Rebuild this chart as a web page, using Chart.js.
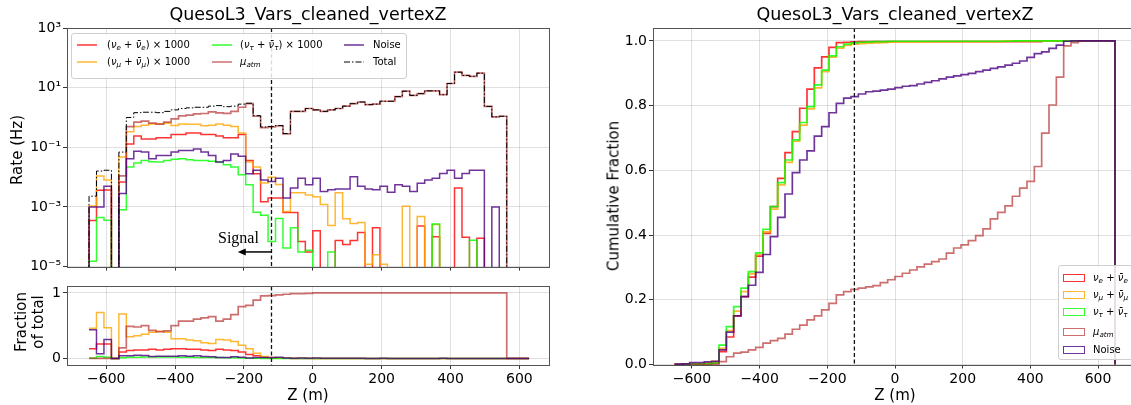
<!DOCTYPE html>
<html>
<head>
<meta charset="utf-8">
<script src="https://cdn.jsdelivr.net/npm/chart.js@4.4.1/dist/chart.umd.min.js"></script>
<style>
  html, body { margin: 0; padding: 0; background: #fff; overflow: hidden; }
  body { width: 1131px; height: 405px; position: relative; font-family: "DejaVu Sans", sans-serif; }
  canvas { position: absolute; }
  .txt { position: absolute; white-space: nowrap; color: #000; line-height: 1; transform: translate(-50%, -50%); }
  .rot { transform: translate(-50%, -50%) rotate(-90deg); }
  .leg { position: absolute; background: rgba(255,255,255,0.85); border: 1px solid #cfcfcf; border-radius: 3px; font-size: 10px; }
  .leg .lab { position: absolute; white-space: nowrap; line-height: 1; transform: translateY(-50%); }
  .leg svg { position: absolute; overflow: visible; }
  .leg .patch { position: absolute; box-sizing: border-box; width: 22px; height: 8px; border: 1.6px solid; transform: translateY(-50%); }
  sub { font-size: 0.72em; vertical-align: -0.28em; line-height: 0; }
</style>
</head>
<body>
<canvas id="rate" width="560" height="277" style="left:0;top:0"></canvas>
<canvas id="frac" width="560" height="129" style="left:0;top:276px"></canvas>
<canvas id="cum" width="560" height="405" style="left:590px;top:0"></canvas>

<div class="txt" style="left:308px;top:15px;font-size:17.5px">QuesoL3_Vars_cleaned_vertexZ</div>
<div class="txt" style="left:895px;top:15px;font-size:17.5px">QuesoL3_Vars_cleaned_vertexZ</div>
<div class="txt rot" style="left:17px;top:150px;font-size:15px">Rate (Hz)</div>
<div class="txt rot" style="left:21px;top:322px;font-size:15px">Fraction</div>
<div class="txt rot" style="left:38px;top:322px;font-size:15px">of total</div>
<div class="txt rot" style="left:614px;top:196px;font-size:15px">Cumulative Fraction</div>
<div class="txt" style="left:308px;top:395px;font-size:15px">Z (m)</div>
<div class="txt" style="left:895px;top:395px;font-size:15px">Z (m)</div>

<div class="leg" style="left:71px;top:33px;width:334px;height:44px">
  <svg style="left:5px;top:11px" width="20" height="1"><line x1="0" y1="0" x2="20" y2="0" stroke="rgba(255,0,0,0.8)" stroke-width="1.5"/></svg>
  <span class="lab" style="left:35px;top:11px">(<i>ν</i><sub><i>e</i></sub> + <i>ν&#772;</i><sub><i>e</i></sub>) × 1000</span>
  <svg style="left:5px;top:28px" width="20" height="1"><line x1="0" y1="0" x2="20" y2="0" stroke="rgba(255,165,0,0.8)" stroke-width="1.5"/></svg>
  <span class="lab" style="left:35px;top:28px">(<i>ν</i><sub><i>μ</i></sub> + <i>ν&#772;</i><sub><i>μ</i></sub>) × 1000</span>
  <svg style="left:140px;top:11px" width="20" height="1"><line x1="0" y1="0" x2="20" y2="0" stroke="rgba(0,255,0,0.8)" stroke-width="1.5"/></svg>
  <span class="lab" style="left:168px;top:11px">(<i>ν</i><sub><i>τ</i></sub> + <i>ν&#772;</i><sub><i>τ</i></sub>) × 1000</span>
  <svg style="left:140px;top:28px" width="20" height="1"><line x1="0" y1="0" x2="20" y2="0" stroke="rgba(178,34,34,0.65)" stroke-width="1.5"/></svg>
  <span class="lab" style="left:168px;top:28px"><i>μ</i><sub><i>atm</i></sub></span>
  <svg style="left:272px;top:11px" width="20" height="1"><line x1="0" y1="0" x2="20" y2="0" stroke="rgba(75,0,130,0.8)" stroke-width="1.5"/></svg>
  <span class="lab" style="left:301px;top:11px">Noise</span>
  <svg style="left:272px;top:28px" width="20" height="1"><line x1="0" y1="0" x2="20" y2="0" stroke="#000" stroke-width="1" stroke-dasharray="6 2 1.5 2"/></svg>
  <span class="lab" style="left:301px;top:28px">Total</span>
</div>

<div class="leg" style="left:1058px;top:265px;width:90px;height:93px">
  <span class="patch" style="left:4px;top:12px;border-color:rgba(255,0,0,0.8)"></span>
  <span class="lab" style="left:34px;top:12px"><i>ν</i><sub><i>e</i></sub> + <i>ν&#772;</i><sub><i>e</i></sub></span>
  <span class="patch" style="left:4px;top:29px;border-color:rgba(255,165,0,0.8)"></span>
  <span class="lab" style="left:34px;top:29px"><i>ν</i><sub><i>μ</i></sub> + <i>ν&#772;</i><sub><i>μ</i></sub></span>
  <span class="patch" style="left:4px;top:46px;border-color:rgba(0,255,0,0.8)"></span>
  <span class="lab" style="left:34px;top:46px"><i>ν</i><sub><i>τ</i></sub> + <i>ν&#772;</i><sub><i>τ</i></sub></span>
  <span class="patch" style="left:4px;top:66px;border-color:rgba(178,34,34,0.65)"></span>
  <span class="lab" style="left:34px;top:66px"><i>μ</i><sub><i>atm</i></sub></span>
  <span class="patch" style="left:4px;top:84px;border-color:rgba(75,0,130,0.8)"></span>
  <span class="lab" style="left:34px;top:84px">Noise</span>
</div>

<script>
// binning of vertexZ: 60 bins between -650 and 650 m
const Z_MIN = -650;
const Z_MAX = 650;
const N_BINS = 60;
const Z_CUT = -120;

// top panel: rate per bin (Hz), neutrinos scaled x1000
const nueRate = [3.5e-4, 3.6e-3, 3.7e-3, 0, 6.9e-3, 0.13, 0.24, 0.19, 0.19, 0.21,
  0.21, 0.27, 0.27, 0.3, 0.3, 0.27, 0.27, 0.24, 0.21, 0.21,
  0.27, 0.036, 0.013, 1.5e-3, 2.0e-3, 2.0e-3, 6.5e-4, 6.5e-4, 7e-5, 3.1e-5,
  1.6e-4, 0, 0, 7.5e-5, 5.5e-5, 7.5e-5, 1.4e-4, 0, 2e-4, 0,
  0, 0, 0, 0, 2.3e-4, 0, 1e-4, 0, 0, 4.3e-3,
  9.6e-5, 0, 9e-5, 0, 0, 0, 0, 0, 0, 0];
const numuRate = [1.07e-3, 0.011, 8.0e-3, 0, 0.047, 0.33, 0.5, 0.55, 0.6, 0.6,
  0.64, 0.54, 0.6, 0.59, 0.59, 0.53, 0.55, 0.6, 0.55, 0.5,
  0.3, 0.032, 0.022, 6.3e-3, 0.01, 5.7e-3, 7e-4, 3e-3, 3e-3, 2.5e-3,
  2.2e-3, 1.2e-3, 2.4e-4, 3e-3, 4e-4, 2.8e-4, 3e-4, 1.2e-5, 2.5e-5, 1.2e-5,
  0, 0, 1.05e-3, 0, 4.8e-4, 0, 2.6e-4, 0, 0, 0,
  0, 0, 0, 0, 0, 0, 0, 0, 0, 0];
const nutauRate = [1.5e-5, 4.4e-4, 3.6e-4, 0, 8e-4, 0.022, 0.03, 0.036, 0.033, 0.032,
  0.036, 0.04, 0.041, 0.038, 0.036, 0.036, 0.034, 0.032, 0.026, 0.022,
  0.012, 5.5e-3, 6.6e-4, 5.3e-4, 7e-5, 4.1e-4, 4.2e-5, 2e-4, 3.1e-5, 3.5e-5,
  0, 0, 3.1e-5, 0, 0, 0, 0, 0, 0, 0,
  0, 0, 0, 0, 0, 0, 2.7e-4, 0, 0, 0,
  0, 7.6e-5, 0, 0, 0, 0, 0, 0, 0, 0];
const muatmRate = [0, 0, 0, 0, 0.011, 0.49, 0.7, 0.75, 0.65, 0.6,
  0.7, 0.9, 1.14, 1.2, 1.32, 1.36, 1.54, 1.43, 1.38, 1.6,
  2.2, 2.9, 1.1, 0.46, 0.48, 0.52, 0.28, 1.6, 1.6, 2.0,
  1.8, 1.6, 1.8, 2.0, 2.4, 2.9, 3.3, 2.7, 2.8, 3.5,
  3.5, 5.0, 7.6, 5.5, 6.3, 7.8, 7.8, 5.8, 13.8, 33,
  25.6, 24, 30.6, 2.35, 1.05, 1.1, 0, 0, 0, 0];
const noiseRate = [1e-3, 1e-3, 4.9e-3, 0, 2.8e-3, 0.041, 0.074, 0.069, 0.041, 0.053,
  0.053, 0.069, 0.078, 0.078, 0.088, 0.069, 0.053, 0.032, 0.036, 0.06,
  0.05, 0.013, 0.017, 8e-3, 7.1e-3, 9.1e-3, 2e-3, 4.3e-3, 9.1e-3, 5.5e-3,
  9.1e-3, 3.3e-3, 3.8e-3, 4e-3, 4e-3, 0.0103, 4.9e-3, 4e-3, 3.8e-3, 4.9e-3,
  3.1e-3, 5.5e-3, 4.9e-3, 3.3e-3, 6.2e-3, 8e-3, 9.1e-3, 0.0133, 0.0171, 9.1e-3,
  0.0133, 0.0171, 0.0171, 0, 1e-3, 0, 0, 0, 0, 0];
const totalRate = [2.3e-3, 0.016, 0.017, 0, 0.069, 1.0, 1.45, 1.5, 1.5, 1.45,
  1.6, 1.8, 2.0, 2.1, 2.2, 2.2, 2.4, 2.5, 2.3, 2.4,
  2.8, 3.0, 1.15, 0.48, 0.5, 0.54, 0.29, 1.6, 1.6, 2.0,
  1.8, 1.6, 1.8, 2.0, 2.4, 2.9, 3.3, 2.7, 2.8, 3.5,
  3.5, 5.0, 7.6, 5.5, 6.3, 7.8, 7.8, 5.8, 13.8, 33,
  25.6, 24, 30.6, 2.35, 1.05, 1.1, 0, 0, 0, 0];

// bottom panel: fraction of total per bin
const nueFrac = [0.15, 0.22, 0.22, 0, 0.1, 0.12, 0.13, 0.13, 0.14, 0.13,
  0.14, 0.15, 0.15, 0.14, 0.14, 0.13, 0.12, 0.14, 0.13, 0.12,
  0.1, 0.06, 0.04, 0.02, 0.005, 0.004, 0.004, 0.001, 0, 0,
  0, 0, 0, 0, 0, 0, 0, 0, 0, 0,
  0, 0, 0, 0, 0, 0, 0, 0, 0, 0,
  0, 0, 0, 0, 0, 0, 0, 0, 0, 0];
const numuFrac = [0.46, 0.7, 0.47, 0, 0.68, 0.33, 0.345, 0.37, 0.4, 0.41,
  0.4, 0.3, 0.3, 0.28, 0.27, 0.24, 0.23, 0.29, 0.28, 0.26,
  0.2, 0.15, 0.08, 0.03, 0.015, 0.01, 0.005, 0.003, 0.002, 0.002,
  0.001, 0, 0, 0, 0, 0, 0, 0, 0, 0,
  0, 0, 0, 0, 0, 0, 0, 0, 0, 0,
  0, 0, 0, 0, 0, 0, 0, 0, 0, 0];
const nutauFrac = [0.007, 0.03, 0.02, 0, 0.012, 0.02, 0.02, 0.024, 0.022, 0.022,
  0.022, 0.022, 0.02, 0.018, 0.016, 0.016, 0.014, 0.013, 0.011, 0.01,
  0.006, 0.004, 0.002, 0.001, 0, 0, 0, 0, 0, 0,
  0, 0, 0, 0, 0, 0, 0, 0, 0, 0,
  0, 0, 0, 0, 0, 0, 0, 0, 0, 0,
  0, 0, 0, 0, 0, 0, 0, 0, 0, 0];
const muatmFrac = [0, 0, 0, 0, 0.16, 0.49, 0.48, 0.5, 0.43, 0.41,
  0.42, 0.5, 0.57, 0.57, 0.6, 0.62, 0.64, 0.57, 0.6, 0.67,
  0.79, 0.81, 0.89, 0.955, 0.96, 0.97, 0.98, 0.99, 0.99, 0.995,
  1, 1, 1, 1, 1, 1, 1, 1, 1, 1,
  1, 1, 1, 1, 1, 1, 1, 1, 1, 1,
  1, 1, 1, 1, 1, 1, 0, 0, 0, 0];
const noiseFrac = [0.44, 0.07, 0.29, 0, 0.04, 0.04, 0.05, 0.045, 0.03, 0.035,
  0.035, 0.035, 0.04, 0.035, 0.04, 0.03, 0.025, 0.015, 0.015, 0.025,
  0.02, 0.005, 0.015, 0.015, 0.014, 0.017, 0.007, 0.003, 0.005, 0.003,
  0.005, 0.002, 0.002, 0.002, 0.002, 0.004, 0.002, 0.001, 0.001, 0.002,
  0.001, 0.001, 0.001, 0.001, 0.001, 0.001, 0.001, 0.002, 0.001, 0,
  0, 0, 0, 0, 0, 0, 0, 0, 0, 0];

// right panel: cumulative fraction per bin
const nueCum = [0.0001, 0.001, 0.002, 0.002, 0.003, 0.005, 0.04, 0.085, 0.15, 0.21,
  0.27, 0.335, 0.405, 0.488, 0.575, 0.655, 0.72, 0.792, 0.851, 0.917,
  0.951, 0.98, 0.995, 0.996, 0.997, 0.998, 0.998, 0.998, 0.998, 0.998,
  0.998, 0.998, 0.998, 0.998, 0.998, 0.998, 0.998, 0.998, 0.998, 0.998,
  0.998, 0.998, 0.998, 0.998, 0.998, 0.998, 0.998, 0.998, 0.998, 0.998,
  1, 1, 1, 1, 1, 1, 1, 1, 1, 1];
const numuCum = [0.0001, 0.001, 0.002, 0.002, 0.006, 0.01, 0.05, 0.105, 0.165, 0.225,
  0.28, 0.34, 0.41, 0.48, 0.555, 0.625, 0.69, 0.74, 0.79, 0.855,
  0.905, 0.95, 0.978, 0.986, 0.99, 0.992, 0.993, 0.994, 0.995, 0.996,
  0.997, 0.997, 0.997, 0.997, 0.997, 0.998, 0.998, 0.998, 0.998, 0.998,
  0.998, 0.998, 0.998, 0.998, 0.998, 1, 1, 1, 1, 1,
  1, 1, 1, 1, 1, 1, 1, 1, 1, 1];
const nutauCum = [0, 0.001, 0.001, 0.001, 0.002, 0.004, 0.06, 0.117, 0.179, 0.236,
  0.287, 0.345, 0.418, 0.488, 0.562, 0.632, 0.694, 0.748, 0.797, 0.864,
  0.91, 0.954, 0.982, 0.99, 0.994, 0.996, 0.997, 0.998, 0.998, 0.999,
  0.999, 0.999, 0.999, 0.999, 0.999, 0.999, 0.999, 0.999, 0.999, 0.999,
  0.999, 0.999, 0.999, 0.999, 0.999, 0.999, 1, 1, 1, 1,
  1, 1, 1, 1, 1, 1, 1, 1, 1, 1];
const muatmCum = [0, 0, 0, 0, 0, 0.0005, 0.009, 0.024, 0.035, 0.038,
  0.045, 0.053, 0.066, 0.074, 0.081, 0.094, 0.109, 0.122, 0.138, 0.15,
  0.169, 0.189, 0.215, 0.225, 0.232, 0.236, 0.24, 0.244, 0.253, 0.262,
  0.272, 0.282, 0.292, 0.302, 0.31, 0.318, 0.326, 0.344, 0.36, 0.37,
  0.383, 0.398, 0.419, 0.45, 0.47, 0.49, 0.52, 0.545, 0.566, 0.612,
  0.715, 0.802, 0.888, 0.985, 0.995, 1, 1, 1, 1, 1];
const noiseCum = [0.001, 0.002, 0.006, 0.006, 0.008, 0.01, 0.045, 0.1, 0.15, 0.21,
  0.245, 0.285, 0.34, 0.395, 0.455, 0.527, 0.593, 0.632, 0.66, 0.706,
  0.735, 0.778, 0.807, 0.823, 0.828, 0.836, 0.843, 0.845, 0.848, 0.851,
  0.856, 0.86, 0.862, 0.867, 0.872, 0.877, 0.883, 0.888, 0.892, 0.896,
  0.9, 0.905, 0.91, 0.915, 0.92, 0.925, 0.931, 0.938, 0.949, 0.961,
  0.966, 0.977, 0.987, 0.999, 1, 1, 1, 1, 1, 1];

const zTicks = [-600, -400, -200, 0, 200, 400, 600];
const rateTicks = [1e-5, 1e-3, 1e-1, 1e1, 1e3];
const rateTickLabels = ['10\u207B\u2075', '10\u207B\u00B3', '10\u207B\u00B9', '10\u00B9', '10\u00B3'];
const fracTicks = [0, 1];
const cumTicks = [0, 0.2, 0.4, 0.6, 0.8, 1.0];

const COLORS = {
    nue: 'rgba(255,0,0,0.8)',
    numu: 'rgba(255,165,0,0.8)',
    nutau: 'rgba(0,255,0,0.8)',
    muatm: 'rgba(178,34,34,0.65)',
    noise: 'rgba(75,0,130,0.8)',
    total: '#000'
};

Chart.defaults.font.family = '"DejaVu Sans", sans-serif';
Chart.defaults.color = '#000';

const edges = [];
for (let i = 0; i <= N_BINS; i++) edges.push(Z_MIN + (Z_MAX - Z_MIN) * i / N_BINS);

// histtype='step' outline: up at first edge, down at last edge
const histPoints = (vals, floor) => {
    const pts = [{ x: edges[0], y: floor }];
    vals.forEach((v, i) => pts.push({ x: edges[i], y: v > 0 ? v : floor }));
    pts.push({ x: edges[vals.length], y: floor });
    return pts;
};
// plt.step(left edges, y, where='post')
const stepPoints = (vals) => vals.map((v, i) => ({ x: edges[i], y: v }));

// chart.js 'before' = horizontal at previous value, then vertical
const line = (data, color, extra) => Object.assign({
    data, borderColor: color, borderWidth: 1.5, stepped: 'before',
    pointRadius: 0, fill: false, clip: 1
}, extra || {});

// later datasets are drawn on top, like matplotlib
const stack = sets => sets.map((d, i) => Object.assign(d, { order: sets.length - i }));

const gridColor = 'rgba(0,0,0,0.12)';
const tickFont = { size: 14 };
const minus = v => (v < 0 ? '\u2212' + Math.abs(v) : String(v));

// frame, cut line and optional arrow annotation
const decorPlugin = {
    id: 'decor',
    afterDatasetsDraw(chart, args, opts) {
        const { ctx, chartArea: a, scales } = chart;
        ctx.save();
        const xc = scales.x.getPixelForValue(Z_CUT);
        ctx.strokeStyle = '#111';
        ctx.lineWidth = 1.3;
        ctx.setLineDash([4, 2.5]);
        ctx.beginPath();
        ctx.moveTo(xc, a.top);
        ctx.lineTo(xc, a.bottom);
        ctx.stroke();
        ctx.setLineDash([]);
        if (opts.signal) {
            const y = scales.y;
            const ya = y.getPixelForValue(3.1e-5);
            const x1 = scales.x.getPixelForValue(-218);
            ctx.strokeStyle = '#000';
            ctx.fillStyle = '#000';
            ctx.lineWidth = 1.5;
            ctx.beginPath();
            ctx.moveTo(xc, ya);
            ctx.lineTo(x1 + 6, ya);
            ctx.stroke();
            ctx.beginPath();
            ctx.moveTo(x1, ya);
            ctx.lineTo(x1 + 8, ya - 3.5);
            ctx.lineTo(x1 + 8, ya + 3.5);
            ctx.closePath();
            ctx.fill();
            ctx.font = '16px "Liberation Serif", "DejaVu Serif", serif';
            ctx.textAlign = 'center';
            ctx.textBaseline = 'middle';
            ctx.fillText('Signal', scales.x.getPixelForValue(-216), y.getPixelForValue(8.8e-5));
        }
        ctx.strokeStyle = '#555';
        ctx.lineWidth = 1;
        ctx.strokeRect(Math.round(a.left) + 0.5, Math.round(a.top) + 0.5,
            Math.round(a.right - a.left) - 1, Math.round(a.bottom - a.top));
        ctx.restore();
    }
};

const xAxis = (min, max, showLabels, height) => ({
    type: 'linear', min, max,
    afterBuildTicks: s => { s.ticks = zTicks.map(v => ({ value: v })); },
    afterFit: s => { s.height = height; },
    ticks: { display: showLabels, font: tickFont, padding: 2, maxRotation: 0, callback: v => minus(v) },
    grid: { color: gridColor, tickColor: '#333', tickLength: 4 },
    border: { display: false }
});

const baseOptions = (scales, padding, decor) => ({
    responsive: false,
    animation: false,
    devicePixelRatio: 1,
    layout: { padding },
    plugins: { legend: { display: false }, tooltip: { enabled: false }, decor },
    elements: { line: { tension: 0 } },
    scales
});

// top-left: rates on log scale
const floorLog = 1e-9;
new Chart(document.getElementById('rate'), {
    type: 'line',
    data: {
        datasets: stack([
            line(histPoints(nueRate, floorLog), COLORS.nue),
            line(histPoints(numuRate, floorLog), COLORS.numu),
            line(histPoints(nutauRate, floorLog), COLORS.nutau),
            line(histPoints(muatmRate, floorLog), COLORS.muatm, { borderWidth: 1.7 }),
            line(histPoints(noiseRate, floorLog), COLORS.noise),
            line(histPoints(totalRate, floorLog), COLORS.total, { borderWidth: 1, borderDash: [6, 2, 1.5, 2] })
        ])
    },
    options: baseOptions({
        x: xAxis(-714, 689, false, 5),
        y: {
            type: 'logarithmic', min: 1e-5, max: 1e3,
            afterBuildTicks: s => { s.ticks = rateTicks.map(v => ({ value: v })); },
            afterFit: s => { s.width = 67; },
            ticks: { font: tickFont, padding: 2, callback: (v, i) => rateTickLabels[i] },
            grid: { color: gridColor, tickColor: '#333', tickLength: 4 },
            border: { display: false }
        }
    }, { top: 28, right: 10, left: 0, bottom: 0 }, { signal: true }),
    plugins: [decorPlugin]
});

// bottom-left: fraction of total
new Chart(document.getElementById('frac'), {
    type: 'line',
    data: {
        datasets: stack([
            line(stepPoints(nueFrac), COLORS.nue),
            line(stepPoints(numuFrac), COLORS.numu),
            line(stepPoints(nutauFrac), COLORS.nutau),
            line(stepPoints(muatmFrac), COLORS.muatm, { borderWidth: 1.7 }),
            line(stepPoints(noiseFrac), COLORS.noise)
        ])
    },
    options: baseOptions({
        x: xAxis(-714, 689, true, 40),
        y: {
            type: 'linear', min: -0.1, max: 1.1,
            afterBuildTicks: s => { s.ticks = fracTicks.map(v => ({ value: v })); },
            afterFit: s => { s.width = 67; },
            ticks: { font: tickFont, padding: 2, callback: v => String(v) },
            grid: { color: gridColor, tickColor: '#333', tickLength: 4 },
            border: { display: false }
        }
    }, { top: 8, right: 10, left: 0, bottom: 0 }, {}),
    plugins: [decorPlugin]
});

// right: cumulative fraction
new Chart(document.getElementById('cum'), {
    type: 'line',
    data: {
        datasets: stack([
            line(histPoints(nueCum, 0), COLORS.nue, { borderWidth: 1.7 }),
            line(histPoints(numuCum, 0), COLORS.numu, { borderWidth: 1.7 }),
            line(histPoints(nutauCum, 0), COLORS.nutau, { borderWidth: 1.7 }),
            line(histPoints(muatmCum, 0), COLORS.muatm, { borderWidth: 1.7 }),
            line(histPoints(noiseCum, 0), COLORS.noise, { borderWidth: 1.7 })
        ])
    },
    options: baseOptions({
        x: xAxis(-715, 715, true, 40.5),
        y: {
            type: 'linear', min: 0, max: 1.04,
            afterBuildTicks: s => { s.ticks = cumTicks.map(v => ({ value: v })); },
            afterFit: s => { s.width = 63; },
            ticks: { font: tickFont, padding: 2, callback: v => v.toFixed(1) },
            grid: { color: gridColor, tickColor: '#333', tickLength: 4 },
            border: { display: false }
        }
    }, { top: 28, right: 13, left: 0, bottom: 0 }, {}),
    plugins: [decorPlugin]
});
</script>
</body>
</html>
